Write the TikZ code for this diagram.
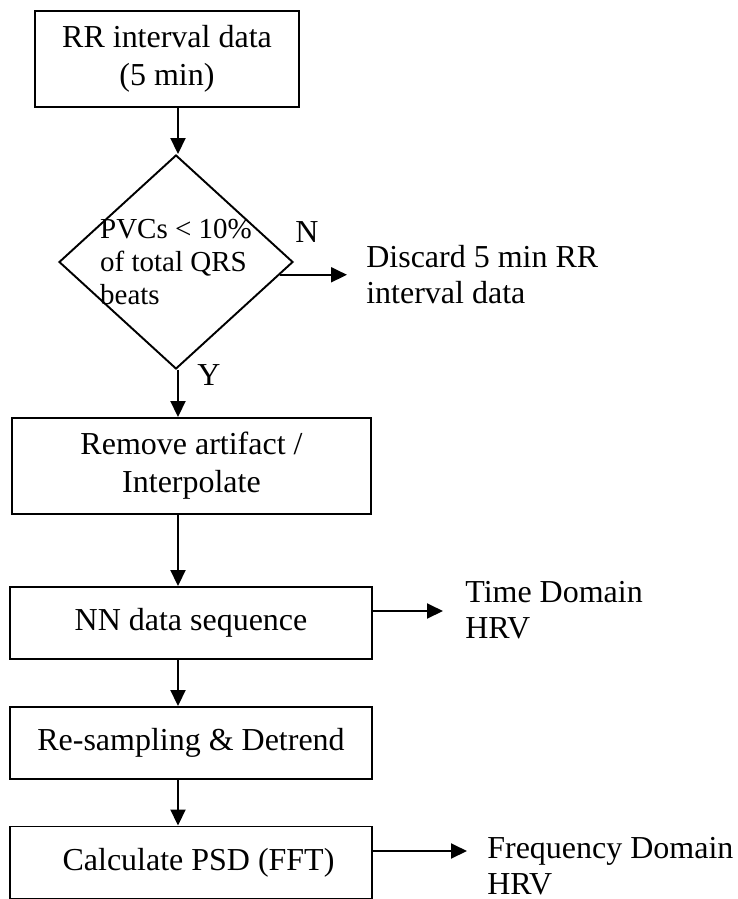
\documentclass[tikz,border=0pt]{standalone}
\usepackage{fontspec}
\setmainfont{Liberation Serif}
\usepackage{tikz}
\usetikzlibrary{shapes.geometric,arrows.meta}

\begin{document}
\begin{tikzpicture}[
    box/.style={draw,line width=1.1pt,rectangle,align=center,inner sep=0pt,font=\fontsize{18.2}{21.5}\selectfont},
    decision/.style={draw,line width=1.1pt,diamond,inner sep=0pt},
    lbl/.style={inner sep=0pt,align=left,font=\fontsize{18.2}{20.5}\selectfont},
    flow/.style={-{Triangle[length=0.32cm,width=0.3cm]},line width=1.1pt}]
        \useasboundingbox (0,0) rectangle (14.74,-17.98);
        \coordinate (spine) at (3.56,0);
        \node[box,minimum width=5.28cm,minimum height=1.92cm] (rr) at (3.34,-1.18) {RR interval data\\(5 min)};
        \node[decision,minimum width=4.68cm,minimum height=4.28cm] (pvc) at (3.52,-5.24) {};
        \node[align=left,inner sep=0pt,font=\fontsize{16.5}{19}\selectfont] (pvctext) at (pvc) {PVCs < 10\%\\of total QRS\\beats};
        \node[lbl,anchor=west] (disc) at (7.32,-5.5) {Discard 5 min RR\\interval data};
        \node[lbl] (no) at (6.14,-4.64) {N};
        \node[lbl] (yes) at (4.18,-7.5) {Y};
        \node[box,minimum width=7.18cm,minimum height=1.92cm] (rm) at (3.83,-9.32) {Remove artifact /\\Interpolate};
        \node[box,minimum width=7.24cm,minimum height=1.44cm] (nn) at (3.82,-12.46) {NN data sequence};
        \node[box,minimum width=7.24cm,minimum height=1.44cm] (rs) at (3.82,-14.86) {Re-sampling \& Detrend};
        \node[box,minimum width=7.24cm,minimum height=1.44cm] (psd) at (3.82,-17.25) {\hspace{0.3cm}Calculate PSD (FFT)};
        \node[lbl,anchor=west] (time) at (9.3,-12.2) {Time Domain\\HRV};
        \node[lbl,anchor=west] (freq) at (9.74,-17.32) {Frequency Domain\\HRV};
        \coordinate (timetip) at (8.86,-12.22);
        \coordinate (freqtip) at (9.34,-17.02);
        \draw[flow] (spine |- rr.south) -- (spine |- pvc.north);
        \draw[flow,shorten >=0.38cm] (pvc.353) -- (pvc.353 -| disc.west);
        \draw[flow] (spine |- pvc.south) -- (spine |- rm.north);
        \draw[flow] (spine |- rm.south) -- (spine |- nn.north);
        \draw[flow] (nn.east |- timetip) -- (timetip);
        \draw[flow] (spine |- nn.south) -- (spine |- rs.north);
        \draw[flow] (spine |- rs.south) -- (spine |- psd.north);
        \draw[flow] (psd.east |- freqtip) -- (freqtip);
    \end{tikzpicture}
\end{document}
